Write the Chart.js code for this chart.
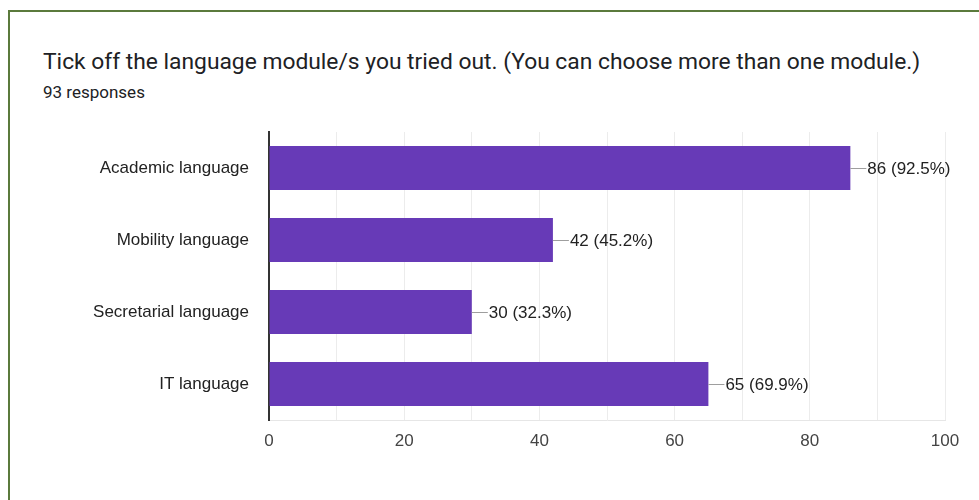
<!DOCTYPE html>
<html>
<head>
<meta charset="utf-8">
<script src="https://cdn.jsdelivr.net/npm/chart.js@4"></script>
<style>
  html, body { margin: 0; padding: 0; background: #fff; }
  body { width: 979px; height: 500px; position: relative; overflow: hidden; }
  #frame { position: absolute; left: 8px; top: 10px; width: 990px; height: 510px; border: 2px solid #5b7a3c; box-sizing: border-box; }
  #title { position: absolute; left: 43px; top: 48px; font-family: Roboto, sans-serif; font-size: 22.8px; color: #202124; white-space: nowrap; }
  #sub { position: absolute; left: 43px; top: 82px; font-family: Roboto, sans-serif; font-size: 17px; color: #202124; }
  #wrap { position: absolute; left: 0; top: 0; width: 979px; height: 500px; }
</style>
</head>
<body>
<div id="frame"></div>
<div id="title">Tick off the language module/s you tried out. (You can choose more than one module.)</div>
<div id="sub">93 responses</div>
<div id="wrap"><canvas id="chart" width="979" height="500"></canvas></div>
<script>
const categories = ['Academic language', 'Mobility language', 'Secretarial language', 'IT language'];
const counts = [86, 42, 30, 65];
const percents = ['92.5%', '45.2%', '32.3%', '69.9%'];
const xTicks = [0, 20, 40, 60, 80, 100];

// value labels with a short leader line, like Google Forms
const valueLabels = {
  id: 'valueLabels',
  afterDatasetsDraw(chart) {
    const ctx = chart.ctx;
    chart.getDatasetMeta(0).data.forEach((bar, i) => {
      ctx.save();
      ctx.strokeStyle = '#9e9e9e';
      ctx.lineWidth = 1;
      ctx.beginPath();
      ctx.moveTo(bar.x, Math.round(bar.y) + 0.5);
      ctx.lineTo(bar.x + 16, Math.round(bar.y) + 0.5);
      ctx.stroke();
      ctx.fillStyle = '#222';
      ctx.font = '17px Arial, "Liberation Sans", sans-serif';
      ctx.textBaseline = 'middle';
      ctx.fillText(counts[i] + ' (' + percents[i] + ')', bar.x + 17, bar.y + 1);
      ctx.restore();
    });
  }
};

new Chart(document.getElementById('chart'), {
  type: 'bar',
  data: {
    labels: categories,
    datasets: [{
      data: counts,
      backgroundColor: '#673ab7',
      borderWidth: 0,
      categoryPercentage: 0.61,
      barPercentage: 1
    }]
  },
  options: {
    indexAxis: 'y',
    responsive: false,
    animation: false,
    layout: { padding: { top: 132, right: 34, bottom: 0, left: 0 } },
    plugins: {
      legend: { display: false },
      tooltip: { enabled: false }
    },
    scales: {
      x: {
        min: 0,
        max: 100,
        afterFit: s => { s.height = 80; },
        afterBuildTicks: s => { s.ticks = [0,10,20,30,40,50,60,70,80,90,100].map(v => ({ value: v })); },
        grid: { color: '#ececec', drawTicks: false },
        border: { color: '#e6e6e6' },
        ticks: {
          padding: 11,
          color: '#444',
          font: { family: 'Arial, "Liberation Sans", sans-serif', size: 17 },
          callback: v => xTicks.includes(v) ? v : ''
        }
      },
      y: {
        afterFit: s => { s.width = 269; },
        grid: { display: false, drawTicks: false },
        border: { color: '#333', width: 2 },
        ticks: {
          padding: 20,
          color: '#222',
          font: { family: 'Arial, "Liberation Sans", sans-serif', size: 17 }
        }
      }
    }
  },
  plugins: [valueLabels]
});
</script>
</body>
</html>
